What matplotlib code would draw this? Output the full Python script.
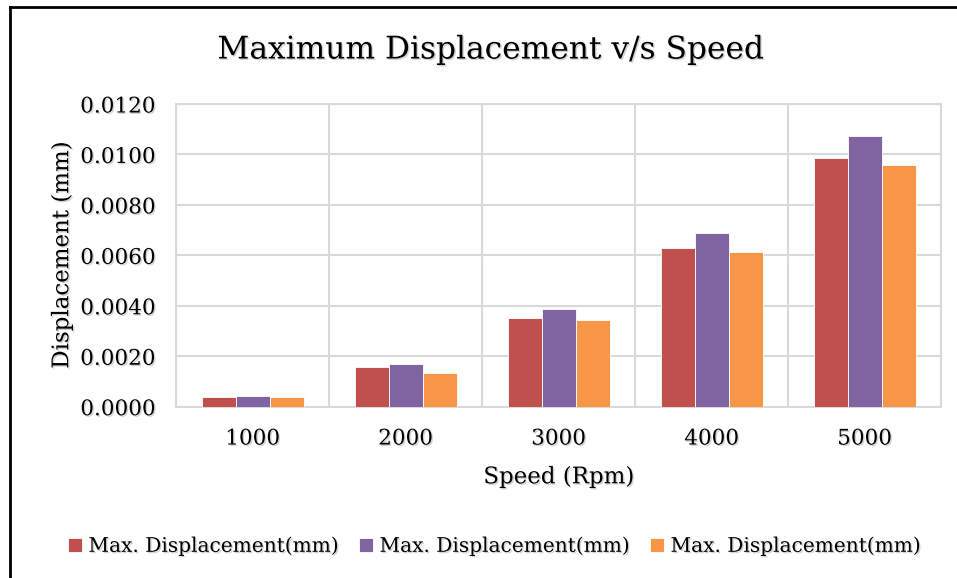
import numpy as np
import matplotlib.pyplot as plt
import matplotlib.patheffects as pe
from matplotlib.lines import Line2D

# speeds (rpm) and the three displacement series (mm)
speeds = ['1000', '2000', '3000', '4000', '5000']
disp_a = [0.00037, 0.00158, 0.00353, 0.00630, 0.00986]
disp_b = [0.00042, 0.00171, 0.00387, 0.00688, 0.01075]
disp_c = [0.00038, 0.00135, 0.00344, 0.00614, 0.00958]
series_names = ['Max. Displacement(mm)'] * 3

colors = ['#C0504D', '#8064A2', '#F79646']
plt.rcParams['font.family'] = 'DejaVu Serif'
shadow = [pe.withSimplePatchShadow(offset=(1, -1), shadow_rgbFace='gray', alpha=0.35)]

fig = plt.figure(figsize=(9.57, 5.78), dpi=100)
ax = fig.add_axes([176/957, 1-406.7/578, (941-176)/957, (406.7-104)/578])

x = np.arange(len(speeds))
w = 2/9
for i, vals in enumerate([disp_a, disp_b, disp_c]):
    ax.bar(x + (i-1)*w, vals, w, color=colors[i], edgecolor='white', linewidth=0.6,
           label=series_names[i], zorder=3)

ax.set_xlim(-0.5, len(speeds)-0.5)
ax.set_ylim(0, 0.012)
ax.set_yticks(np.arange(0, 0.0121, 0.002))
ax.set_yticklabels(['%.4f' % v for v in np.arange(0, 0.0121, 0.002)])
ax.set_xticks(x)
ax.set_xticklabels(speeds)
ax.set_xticks(np.arange(-0.5, len(speeds), 1), minor=True)
ax.tick_params(axis='both', which='both', length=0, labelsize=15.5)
ax.tick_params(axis='y', pad=15)
ax.tick_params(axis='x', pad=15)
for lab in ax.get_xticklabels() + ax.get_yticklabels():
    lab.set_path_effects(shadow)

ax.grid(axis='y', which='major', color='#D9D9D9', linewidth=1.5, zorder=0)
ax.grid(axis='x', which='minor', color='#D9D9D9', linewidth=1.5, zorder=0)
ax.grid(axis='x', which='major', visible=False)
for s in ax.spines.values():
    s.set_color('#D9D9D9')
    s.set_linewidth(1.5)

ax.set_xlabel('Speed (Rpm)', fontsize=16.5, labelpad=12, path_effects=shadow)
ax.set_ylabel('Displacement (mm)', fontsize=16.5, labelpad=5, path_effects=shadow)

fig.text(0.512, 1-50/578, 'Maximum Displacement v/s Speed', fontsize=22.5, ha='center', va='center',
         path_effects=shadow)

leg = fig.legend(loc='center', bbox_to_anchor=(0.517, 1-546/578), ncol=3, frameon=False,
                 fontsize=14.5, handlelength=0.7, handleheight=0.7, handletextpad=0.3,
                 columnspacing=1.0)
for t in leg.get_texts():
    t.set_path_effects(shadow)

# outer frame (left and top edges visible)
fig.add_artist(Line2D([10/957, 10/957], [0, 1-6.5/578], color='black', linewidth=2))
fig.add_artist(Line2D([10/957, 1], [1-6.5/578, 1-6.5/578], color='black', linewidth=2))

fig.savefig('out.png', dpi=100)
